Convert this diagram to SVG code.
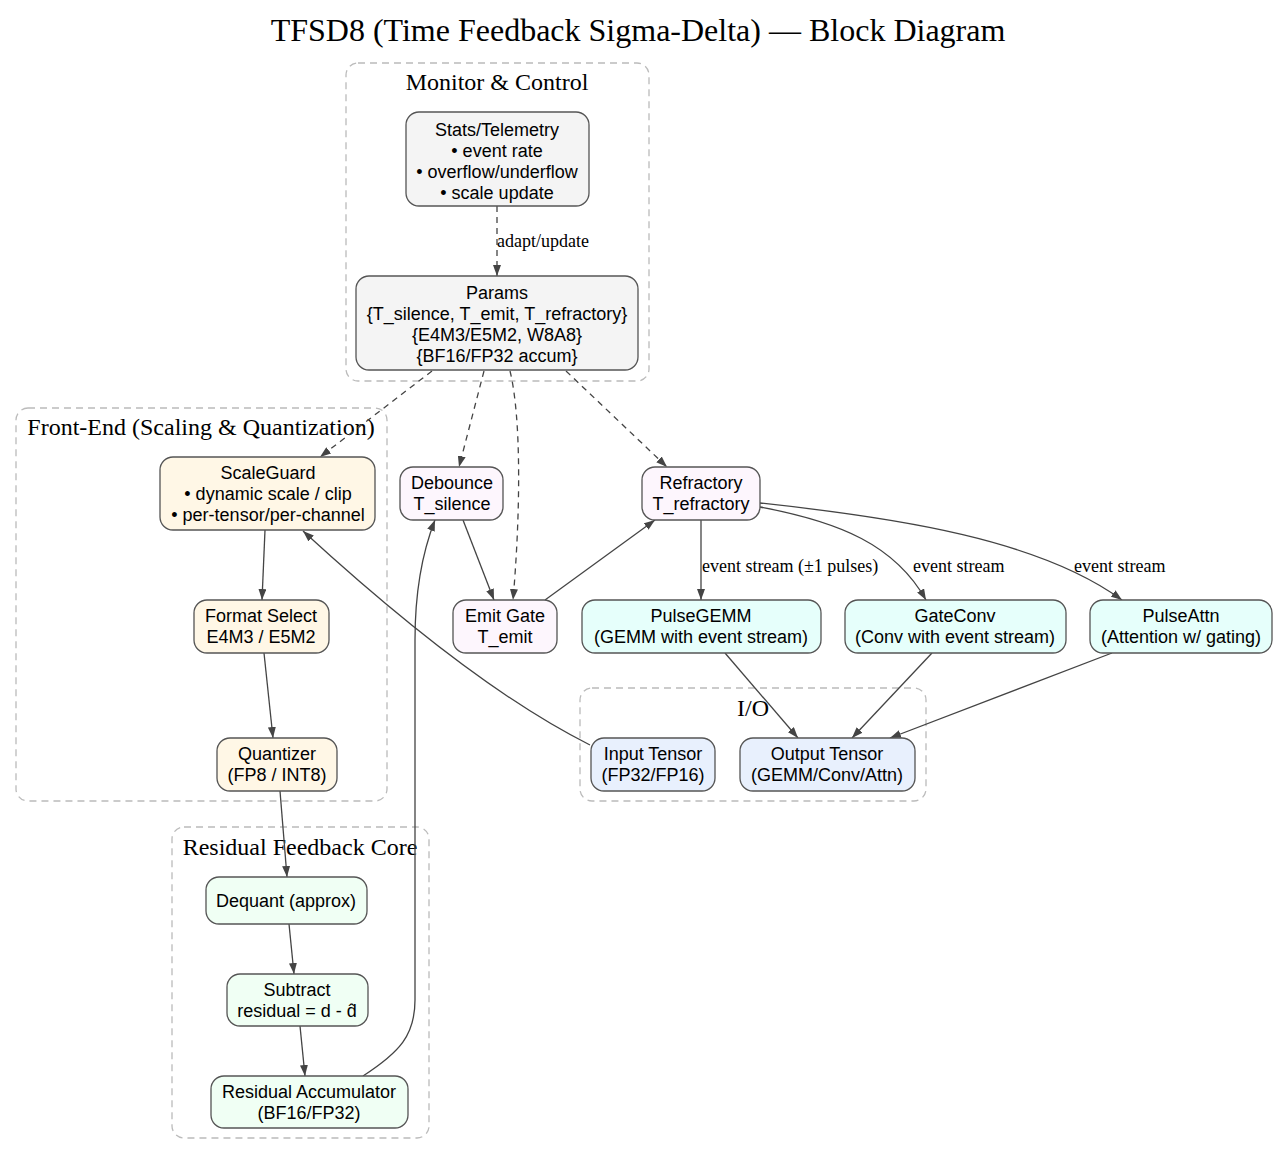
<svg xmlns="http://www.w3.org/2000/svg" width="1277" height="1155" viewBox="0 0 1277 1155">
<style>
.title{font-family:"Liberation Serif","Times New Roman",serif;font-size:32px;fill:#000;text-anchor:middle}
.clabel{font-family:"Liberation Serif","Times New Roman",serif;font-size:24px;fill:#000;text-anchor:middle}
.cluster{fill:none;stroke:#bbb;stroke-width:1.3;stroke-dasharray:7,5}
.node rect{stroke:#555;stroke-width:1.3}
.node text{font-family:"Liberation Sans",Arial,sans-serif;font-size:18px;fill:#000;text-anchor:middle}
.mon rect{fill:#f4f4f4}
.fe rect{fill:#fff7e6}
.tm rect{fill:#fdf6fd}
.op rect{fill:#e6fffb}
.io rect{fill:#e8f0fd}
.rs rect{fill:#f0fff4}
.edge{fill:none;stroke:#444;stroke-width:1.3;marker-end:url(#arr)}
.dash{stroke-dasharray:6,5}
.elabel{font-family:"Liberation Serif","Times New Roman",serif;font-size:18px;fill:#000}
</style>
<defs>
<marker id="arr" viewBox="0 0 11 8" refX="11" refY="4" markerWidth="11" markerHeight="8" markerUnits="userSpaceOnUse" orient="auto">
<path d="M0,0 L11,4 L0,8 z" fill="#444"/>
</marker>
</defs>
<rect width="1277" height="1155" fill="#fff"/>
<text class="title" x="638" y="41">TFSD8 (Time Feedback Sigma-Delta) — Block Diagram</text>

<g id="clusters">
<g id="cluster_monitor"><rect class="cluster" x="346" y="63" width="303" height="318" rx="12"/><text class="clabel" x="497" y="90">Monitor &amp; Control</text></g>
<g id="cluster_frontend"><rect class="cluster" x="16" y="408" width="371" height="393" rx="12"/><text class="clabel" x="201" y="435">Front-End (Scaling &amp; Quantization)</text></g>
<g id="cluster_residual"><rect class="cluster" x="172" y="827" width="257" height="311" rx="12"/><text class="clabel" x="300" y="855">Residual Feedback Core</text></g>
<g id="cluster_io"><rect class="cluster" x="580" y="688" width="346" height="113" rx="12"/><text class="clabel" x="753" y="716">I/O</text></g>
</g>

<g id="connectors">
<path class="edge dash" d="M497,206 L497,276"/>
<text class="elabel" x="497" y="247">adapt/update</text>
<path class="edge dash" d="M432,371 L320,457"/>
<path class="edge dash" d="M484,371 L459,467"/>
<path class="edge dash" d="M510,371 C522,420 520,520 513,600"/>
<path class="edge dash" d="M566,371 L667,467"/>
<path class="edge" d="M265,530 L262,600"/>
<path class="edge" d="M264,653 L273,738"/>
<path class="edge" d="M280,791 L287,877"/>
<path class="edge" d="M289,924 L294,974"/>
<path class="edge" d="M300,1026 L305,1076"/>
<path class="edge" d="M363,1076 C400,1052 415,1035 415,1000 L415,640 C415,590 424,548 435,520"/>
<path class="edge" d="M463,520 L494,600"/>
<path class="edge" d="M545,600 L655,520"/>
<path class="edge" d="M701,520 L701,600"/>
<text class="elabel" x="702" y="572">event stream (±1 pulses)</text>
<path class="edge" d="M760,507 C840,522 895,545 926,600"/>
<text class="elabel" x="913" y="572">event stream</text>
<path class="edge" d="M760,503 C900,518 1040,540 1122,600"/>
<text class="elabel" x="1074" y="572">event stream</text>
<path class="edge" d="M725,653 L798,738"/>
<path class="edge" d="M932,653 L852,738"/>
<path class="edge" d="M1112,653 L890,738"/>
<path class="edge" d="M590,745 C500,700 400,620 303,531"/>
</g>

<g id="n_stats" class="node mon"><rect x="406" y="112" width="183" height="94" rx="13"/><text x="497" y="136">Stats/Telemetry</text><text x="497" y="157">• event rate</text><text x="497" y="178">• overflow/underflow</text><text x="497" y="199">• scale update</text></g>
<g id="n_params" class="node mon"><rect x="356" y="276" width="282" height="94" rx="13"/><text x="497" y="299">Params</text><text x="497" y="320">{T_silence, T_emit, T_refractory}</text><text x="497" y="341">{E4M3/E5M2, W8A8}</text><text x="497" y="362">{BF16/FP32 accum}</text></g>

<g id="n_scaleguard" class="node fe"><rect x="160" y="457" width="215" height="73" rx="13"/><text x="268" y="479">ScaleGuard</text><text x="268" y="500">• dynamic scale / clip</text><text x="268" y="521">• per-tensor/per-channel</text></g>
<g id="n_format" class="node fe"><rect x="194" y="600" width="135" height="53" rx="13"/><text x="261" y="622">Format Select</text><text x="261" y="643">E4M3 / E5M2</text></g>
<g id="n_quant" class="node fe"><rect x="217" y="738" width="120" height="53" rx="13"/><text x="277" y="760">Quantizer</text><text x="277" y="781">(FP8 / INT8)</text></g>

<g id="n_debounce" class="node tm"><rect x="400" y="467" width="103" height="53" rx="13"/><text x="452" y="489">Debounce</text><text x="452" y="510">T_silence</text></g>
<g id="n_emit" class="node tm"><rect x="453" y="600" width="104" height="53" rx="13"/><text x="505" y="622">Emit Gate</text><text x="505" y="643">T_emit</text></g>
<g id="n_refr" class="node tm"><rect x="642" y="467" width="118" height="53" rx="13"/><text x="701" y="489">Refractory</text><text x="701" y="510">T_refractory</text></g>

<g id="n_pgemm" class="node op"><rect x="582" y="600" width="239" height="53" rx="13"/><text x="701" y="622">PulseGEMM</text><text x="701" y="643">(GEMM with event stream)</text></g>
<g id="n_gconv" class="node op"><rect x="845" y="600" width="221" height="53" rx="13"/><text x="955" y="622">GateConv</text><text x="955" y="643">(Conv with event stream)</text></g>
<g id="n_pattn" class="node op"><rect x="1090" y="600" width="182" height="53" rx="13"/><text x="1181" y="622">PulseAttn</text><text x="1181" y="643">(Attention w/ gating)</text></g>

<g id="n_input" class="node io"><rect x="591" y="738" width="124" height="53" rx="13"/><text x="653" y="760">Input Tensor</text><text x="653" y="781">(FP32/FP16)</text></g>
<g id="n_output" class="node io"><rect x="740" y="738" width="175" height="53" rx="13"/><text x="827" y="760">Output Tensor</text><text x="827" y="781">(GEMM/Conv/Attn)</text></g>

<g id="n_dequant" class="node rs"><rect x="206" y="877" width="161" height="47" rx="13"/><text x="286" y="907">Dequant (approx)</text></g>
<g id="n_sub" class="node rs"><rect x="227" y="974" width="141" height="52" rx="13"/><text x="297" y="996">Subtract</text><text x="297" y="1017">residual = d - d̂</text></g>
<g id="n_acc" class="node rs"><rect x="211" y="1076" width="197" height="52" rx="13"/><text x="309" y="1098">Residual Accumulator</text><text x="309" y="1119">(BF16/FP32)</text></g>
</svg>
